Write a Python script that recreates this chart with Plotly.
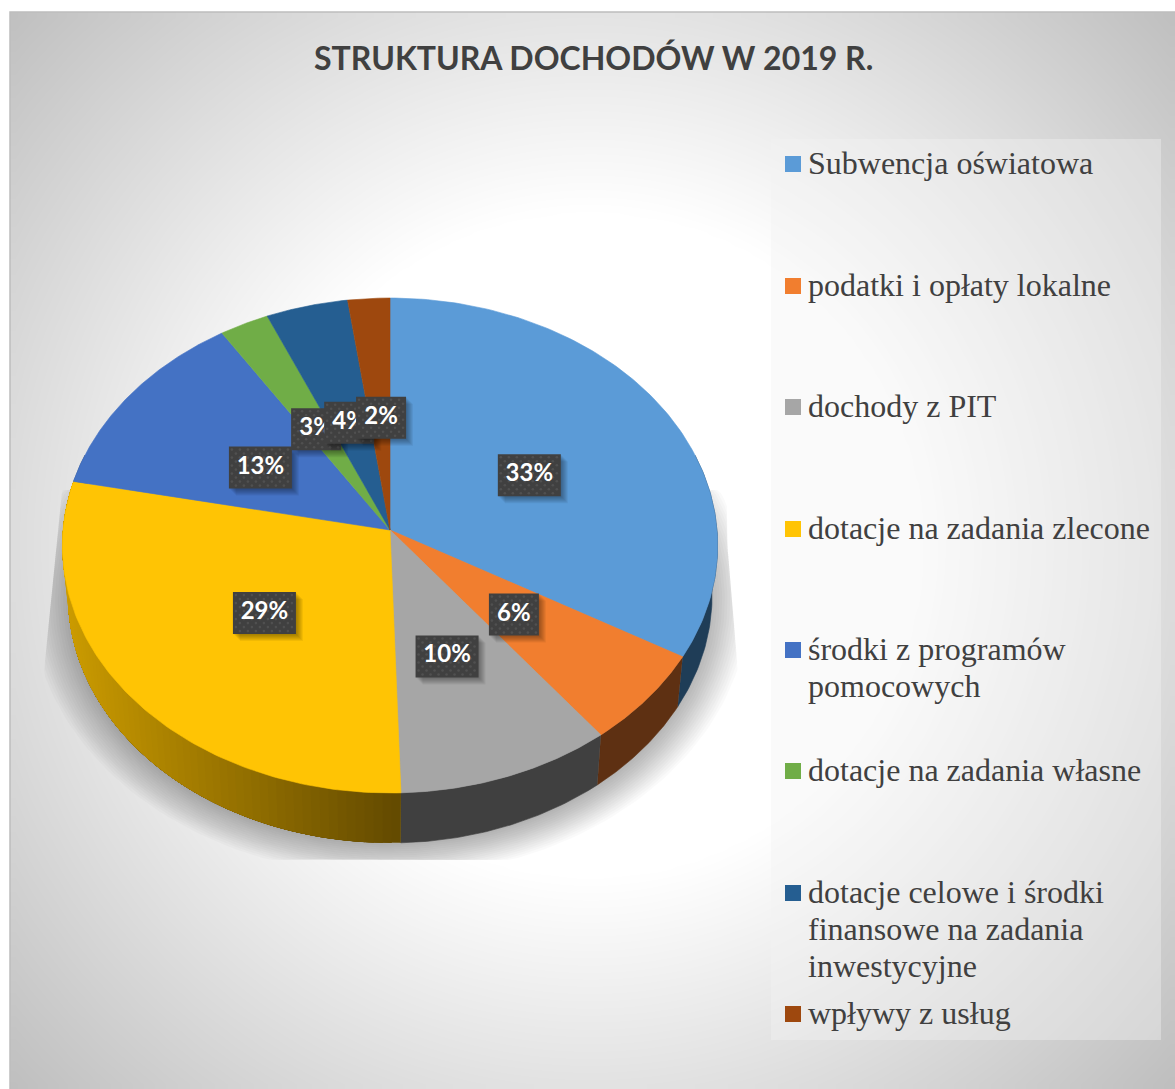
import numpy as np
import plotly.graph_objects as go

TITLE = "STRUKTURA DOCHODÓW W 2019 R."
categories = ["Subwencja oświatowa", "podatki i opłaty lokalne", "dochody z PIT",
              "dotacje na zadania zlecone", "środki z programów pomocowych",
              "dotacje na zadania własne",
              "dotacje celowe i środki finansowe na zadania inwestycyjne",
              "wpływy z usług"]
legend_lines = [["Subwencja oświatowa"], ["podatki i opłaty lokalne"], ["dochody z PIT"],
                ["dotacje na zadania zlecone"], ["środki z programów", "pomocowych"],
                ["dotacje na zadania własne"],
                ["dotacje celowe i środki", "finansowe na zadania", "inwestycyjne"],
                ["wpływy z usług"]]
values = [33.3, 6.2, 10.0, 28.7, 12.7, 2.6, 4.3, 2.2]
colors = ["#5b9bd7", "#f17e2f", "#a6a6a6", "#ffc404", "#4472c4", "#70ad47", "#255e91", "#9e480e"]
wall_colors = ["#1f3d57", "#5e3012", "#404040", None, "#2a4a80", "#466c2c", "#17395a", "#5f2b08"]
legend_y = [164, 286, 407, 529, 650, 771, 893, 1014]
label_nudge = [(0, 2), (-2, -2), (0, 3), (2, -2), (3, 2), (1, 1), (2, 4), (2, 3)]

W, H = 1175, 1089
CX, CY, A, B, E = 390.0, 530.0, 327.0, 246.5, 0.0626
DEPTH, TAPER = 50.0, 0.983
TEXT = "#404040"
SERIF = "Liberation Serif"
SANS = "Lato"


def project(t, r=1.0):
    th = 2 * np.pi * np.asarray(t, dtype=float)
    u, v = r * np.sin(th), r * np.cos(th)
    d = 1 + E * v
    return CX + A * u / d, CY - B * v / d


def lower(t):
    x, y = project(t)
    return CX + TAPER * (x - CX), y + DEPTH


def poly(x, y, fill, line=None, width=0.6):
    return go.Scatter(x=x, y=y, mode="lines", fill="toself", fillcolor=fill,
                      line=dict(color=line or "rgba(0,0,0,0)", width=width if line else 0),
                      hoverinfo="skip", showlegend=False)


fig = go.Figure()

# background gradient (cell edges given explicitly so it starts exactly at the chart frame)
ex = np.linspace(10, W, 121)
ey = np.linspace(12, H, 111)
XX, YY = np.meshgrid((ex[:-1] + ex[1:]) / 2, (ey[:-1] + ey[1:]) / 2)
dist = np.hypot(XX - 590, YY - 545)
zz = 1 - np.clip((dist - 330) / 460, 0, 1)
fig.add_trace(go.Heatmap(x=ex, y=ey, z=zz, zmin=0, zmax=1, zsmooth="best", showscale=False,
                         colorscale=[[0, "#bfbfbf"], [1, "#ffffff"]], hoverinfo="skip"))

# soft shadow below the pie
full = np.linspace(0, 1, 241)
lx, ly = lower(full)
n_layers = 16
for s in np.linspace(1.115, 0.99, n_layers):
    sx = CX + s * (lx - CX)
    sy = CY + DEPTH + 19 + s * (ly - (CY + DEPTH + 19))
    sy = np.clip(sy + 5, 490, 860)
    left = np.interp(sy, [490, 690], [62, 42])
    right = np.interp(sy, [540, 690], [727, 740])
    sx = np.clip(sx, left, right)
    fig.add_trace(poly(sx, sy, "rgba(0,0,0,0.019)"))

# side walls
edges = np.concatenate([[0], np.cumsum(values)]) / sum(values)
for i in range(len(values)):
    t0, t1 = max(edges[i], 0.2), min(edges[i + 1], 0.8)
    if t1 <= t0:
        continue
    if wall_colors[i] is not None:
        ts = np.linspace(t0, t1, 60)
        xa, ya = project(ts)
        xb, yb = lower(ts)
        fig.add_trace(poly(np.r_[xa, xb[::-1]], np.r_[ya, yb[::-1]], wall_colors[i], wall_colors[i]))
    else:
        # painted from the dark end outwards, each band covering the rest of the wall: no seams
        for a in np.linspace(t0, t1, 70)[:-1]:
            ts = np.linspace(a, t1, 40)
            xa, ya = project(ts)
            xb, yb = lower(ts)
            k = np.clip((float(project(a)[0]) - 65) / 335, 0, 1)
            c = np.array([204, 156, 0]) * (1 - k) + np.array([100, 75, 0]) * k
            col = "rgb(%d,%d,%d)" % tuple(c)
            fig.add_trace(poly(np.r_[xa, xb[::-1]], np.r_[ya, yb[::-1]], col))

# top face
for i in range(len(values)):
    ts = np.linspace(edges[i], edges[i + 1], 120)
    x, y = project(ts)
    fig.add_trace(poly(np.r_[CX, x, CX], np.r_[CY, y, CY], colors[i], colors[i]))

# data labels
for i, val in enumerate(values):
    mid = (edges[i] + edges[i + 1]) / 2
    mx, my = project(mid, 0.5)
    mx = float(mx) + label_nudge[i][0]
    my = float(my) + 4 + label_nudge[i][1]
    label = f"{val:.0f}%"
    hw = 31.5 if len(label) == 3 else 25
    hh = 21
    for off in (1, 2, 3, 4, 5, 6, 7):
        fig.add_trace(poly([mx - hw + off, mx + hw + off, mx + hw + off, mx - hw + off, mx - hw + off],
                           [my - hh + off, my - hh + off, my + hh + off, my + hh + off, my - hh + off],
                           "rgba(0,0,0,0.055)"))
    fig.add_trace(poly([mx - hw, mx + hw, mx + hw, mx - hw, mx - hw],
                       [my - hh, my - hh, my + hh, my + hh, my - hh], TEXT))
    dots_x, dots_y = [], []
    for row, yy in enumerate(np.arange(my - hh + 3, my + hh, 4)):
        for xx in np.arange(mx - hw + 3 + (row % 2) * 4, mx + hw - 1, 8):
            dots_x.append(xx)
            dots_y.append(yy)
    fig.add_trace(go.Scatter(x=dots_x, y=dots_y, mode="markers",
                             marker=dict(color="#505050", size=2.6, symbol="circle", line=dict(width=0)),
                             hoverinfo="skip", showlegend=False))
    fig.add_trace(go.Scatter(x=[mx], y=[my], mode="text", text=[label],
                             textposition="middle center",
                             textfont=dict(family=SANS, size=24, color="#ffffff", weight="bold"),
                             hoverinfo="skip", showlegend=False))

# legend
LINE = 37
fig.add_trace(poly([771, 1161, 1161, 771, 771], [139, 139, 1040, 1040, 139], "rgba(242,242,242,0.4)"))
fig.add_trace(go.Scatter(x=[793] * len(colors), y=legend_y, mode="markers",
                         marker=dict(symbol="square", size=16, color=colors, line=dict(width=0)),
                         hoverinfo="skip", showlegend=False))
tx, ty, tt = [], [], []
for y0, lines in zip(legend_y, legend_lines):
    for j, s in enumerate(lines):
        tx.append(808)
        ty.append(y0 + 2 + j * LINE)
        tt.append(s)
fig.add_trace(go.Scatter(x=tx, y=ty, mode="text", text=tt, textposition="middle right",
                         textfont=dict(family=SERIF, size=32, color=TEXT),
                         hoverinfo="skip", showlegend=False))

fig.update_layout(
    width=W, height=H, autosize=False,
    margin=dict(l=0, r=0, t=0, b=0),
    paper_bgcolor="#ffffff", plot_bgcolor="#ffffff",
    showlegend=False, hovermode=False,
    xaxis=dict(range=[0, W], visible=False, fixedrange=True),
    yaxis=dict(range=[H, 0], visible=False, fixedrange=True),
    shapes=[
        dict(type="rect", layer="above", x0=10, x1=W + 5, y0=12, y1=H + 5,
             fillcolor="rgba(0,0,0,0)", line=dict(color="#bdbdbd", width=1.5)),
    ],
    annotations=[dict(text=f"<b>{TITLE}</b>", x=593, y=57, xref="x", yref="y",
                      showarrow=False, xanchor="center", yanchor="middle",
                      font=dict(family=SANS, size=32, color=TEXT))],
)
fig.write_html("out.html", post_script="document.body.style.margin='0';document.body.style.overflow='hidden';",
               config={"displayModeBar": False})
